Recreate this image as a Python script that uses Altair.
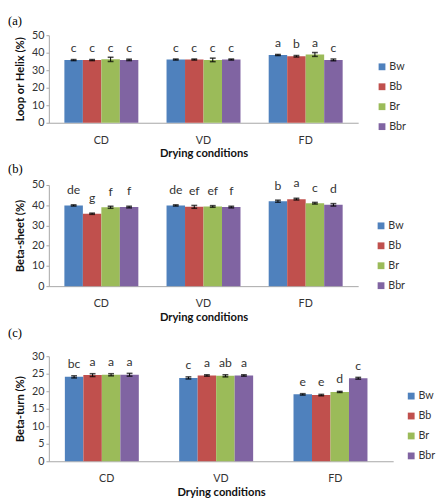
import altair as alt
import pandas as pd

FONT = "Lato"

conditions = ["CD", "VD", "FD"]
samples = ["Bw", "Bb", "Br", "Bbr"]
colors = ["#4F81BD", "#C0504D", "#9BBB59", "#8064A2"]

helix_vals = [35.8, 35.8, 36.2, 35.9, 36.1, 36.1, 35.9, 36.1, 38.7, 38.0, 39.0, 35.9]
helix_err = [0.3, 0.3, 1.2, 0.4, 0.3, 0.3, 1.0, 0.3, 0.3, 0.4, 1.1, 0.5]
helix_letters = ["c", "c", "c", "c", "c", "c", "c", "c", "a", "b", "a", "c"]

sheet_vals = [39.9, 35.8, 39.0, 39.1, 39.9, 39.2, 39.4, 39.1, 42.0, 43.0, 41.0, 40.2]
sheet_err = [0.3, 0.3, 0.5, 0.4, 0.3, 0.7, 0.4, 0.4, 0.5, 0.4, 0.4, 0.6]
sheet_letters = ["de", "g", "f", "f", "de", "ef", "ef", "f", "b", "a", "c", "d"]

turn_vals = [24.1, 24.6, 24.7, 24.7, 23.8, 24.5, 24.4, 24.5, 19.1, 18.9, 19.8, 23.7]
turn_err = [0.3, 0.4, 0.3, 0.4, 0.3, 0.2, 0.3, 0.2, 0.2, 0.2, 0.15, 0.25]
turn_letters = ["bc", "a", "a", "a", "c", "a", "ab", "a", "e", "e", "d", "c"]


def panel(vals, errs, letters, ytitle, ymax, ystep, width, height, label,
          label_dy, lx, ly, letter_dy, pi, po):
    df = pd.DataFrame({
        "cond": [c for c in conditions for _ in samples],
        "sample": samples * len(conditions),
        "value": vals,
        "err": errs,
        "letter": letters,
    })
    df["lo"] = df["value"] - df["err"]
    df["hi"] = df["value"] + df["err"]

    xenc = alt.X("cond:N", sort=conditions,
                 scale=alt.Scale(paddingInner=pi, paddingOuter=po),
                 axis=alt.Axis(title="Drying conditions", labelAngle=0, ticks=False,
                               domain=True, labelPadding=12, titlePadding=3,
                               labelFontSize=11, titleFontSize=11.5))
    xoff = alt.XOffset("sample:N", sort=samples,
                       scale=alt.Scale(paddingInner=0, paddingOuter=0))
    yscale = alt.Scale(domain=[0, ymax], nice=False)
    yaxis = alt.Axis(title=ytitle, values=list(range(0, ymax + 1, ystep)),
                     grid=False, tickSize=3, labelPadding=2, titlePadding=6,
                     labelFontSize=11, titleFontSize=11.5)

    def Y(field):
        return alt.Y(field, scale=yscale, axis=yaxis, title=ytitle)

    base = alt.Chart(df).encode(x=xenc, xOffset=xoff)

    bars = base.mark_bar().encode(
        y=Y("value:Q"),
        color=alt.Color("sample:N", sort=samples,
                        scale=alt.Scale(domain=samples, range=colors),
                        legend=alt.Legend(title=None, orient="none", legendX=lx, legendY=ly,
                                          symbolType="square", symbolSize=49,
                                          symbolStrokeWidth=0, labelFontSize=11,
                                          labelFont=FONT, labelColor="#333333",
                                          rowPadding=8.5, labelOffset=2, padding=0)),
    )
    rule = base.mark_rule(color="black", strokeWidth=1).encode(
        y=Y("lo:Q"), y2="hi:Q")
    cap_lo = base.mark_tick(color="black", thickness=1.6, size=6,
                            orient="horizontal").encode(y=Y("lo:Q"))
    cap_hi = base.mark_tick(color="black", thickness=1.6, size=6,
                            orient="horizontal").encode(y=Y("hi:Q"))
    text = base.mark_text(dy=letter_dy, fontSize=12.5, font=FONT, color="#333333",
                          baseline="middle").encode(y=Y("value:Q"), text="letter:N")
    lab = alt.Chart(pd.DataFrame({"t": [label]})).mark_text(
        font="Liberation Serif", fontSize=13, color="black", align="left",
        baseline="middle").encode(x=alt.value(-42), y=alt.value(label_dy), text="t:N")

    return alt.layer(bars, rule, cap_lo, cap_hi, text, lab).properties(
        width=width, height=height)


pa = panel(helix_vals, helix_err, helix_letters, "Loop  or Helix (%)", 50, 10,
           318, 90, "(a)", -15, 337, 27, -12, 0.276, 0.152)
pb = panel(sheet_vals, sheet_err, sheet_letters, "Beta-sheet (%)", 50, 10,
           318, 104, "(b)", -16, 336, 36.5, -16, 0.276, 0.152)
pc = panel(turn_vals, turn_err, turn_letters, "Beta-turn (%)", 30, 5,
           354, 108, "(c)", -24, 367, 35.5, -13, 0.268, 0.14)

chart = alt.vconcat(pa, pb, pc, spacing=4).resolve_scale(
    color="independent").resolve_legend(color="independent").properties(
    padding=0
).configure_view(stroke=None).configure_axis(
    domainColor="#a6a6a6", tickColor="#a6a6a6", labelColor="#333333",
    labelFont=FONT, titleFont=FONT, titleFontWeight="bold", titleColor="#111111"
)

chart.save("out.html", embed_options={"renderer": "svg", "actions": False})
